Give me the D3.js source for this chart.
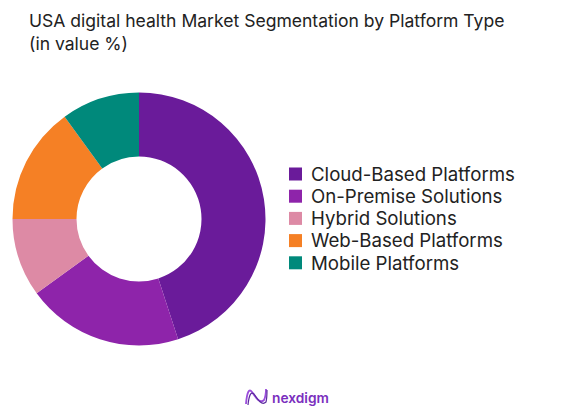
<!DOCTYPE html>
<html><head><meta charset="utf-8">
<script src="https://cdn.jsdelivr.net/npm/d3@7"></script>
<style>body{margin:0;background:#fff}svg{display:block}</style>
</head><body>
<svg id="c" width="575" height="415"></svg>
<script>
const categories = ["Cloud-Based Platforms","On-Premise Solutions","Hybrid Solutions","Web-Based Platforms","Mobile Platforms"];
const values = [45, 20, 10, 15, 10];
const colors = ["#6A1B9A","#8E24AA","#DD8AA5","#F58025","#00897B"];
const titleLines = ["USA digital health Market Segmentation by Platform Type","(in value %)"];

const svg = d3.select("#c");
const font = "Inter, 'Open Sans', sans-serif";

const titles = svg.selectAll("text.title").data(titleLines).join("text")
  .attr("class","title").attr("x",29).attr("y",(d,i)=>27+i*23)
  .attr("font-family",font).attr("font-size",18).attr("fill","#222")
  .text(d=>d);
// fit title width to ~476px
const tw = titles.nodes()[0].getComputedTextLength();
titles.attr("font-size", 18*476/tw);

const cx=139, cy=219, R=126.5, r=62.5;
const pie = d3.pie().sort(null).value(d=>d.v);
const arc = d3.arc().innerRadius(r).outerRadius(R);
const data = categories.map((c,i)=>({c, v: values[i], col: colors[i]}));
svg.append("g").attr("transform",`translate(${cx},${cy})`)
  .selectAll("path").data(pie(data)).join("path")
  .attr("d",arc).attr("fill",d=>d.data.col);

const lg = svg.append("g").attr("transform","translate(289,174)");
const row = lg.selectAll("g").data(data).join("g")
  .attr("transform",(d,i)=>`translate(0,${i*22.2})`);
row.append("rect").attr("x",0).attr("y",-6.5).attr("width",13).attr("height",13).attr("fill",d=>d.col);
const lt = row.append("text").attr("x",22).attr("y",0).attr("dy","0.36em")
  .attr("font-family",font).attr("font-size",16).attr("fill","#222").text(d=>d.c);
const lw = lt.nodes()[0].getComputedTextLength();
lt.attr("font-size", 16*204/lw);

// logo
const logo = svg.append("g");
logo.append("path").attr("d","M246,404 C247,392 249,388 252,392 C256,398 260,404 264,400 C266,396 266,392 266,389")
  .attr("fill","none").attr("stroke","#9B4DDB").attr("stroke-width",1.8);
logo.append("path").attr("d","M248,405 C249,395 251,391 254,394 C258,400 262,406 266,402 C267,398 267,394 267,390")
  .attr("fill","none").attr("stroke","#5B2A9E").attr("stroke-width",1.2);
const lgt = logo.append("text").attr("x",272).attr("y",403).attr("font-family",font).attr("font-weight",600)
  .attr("font-size",15).attr("fill","#7B2FBE").text("nexdigm");
const gw = lgt.node().getComputedTextLength();
lgt.attr("font-size", 15*57/gw);
</script>
</body></html>
